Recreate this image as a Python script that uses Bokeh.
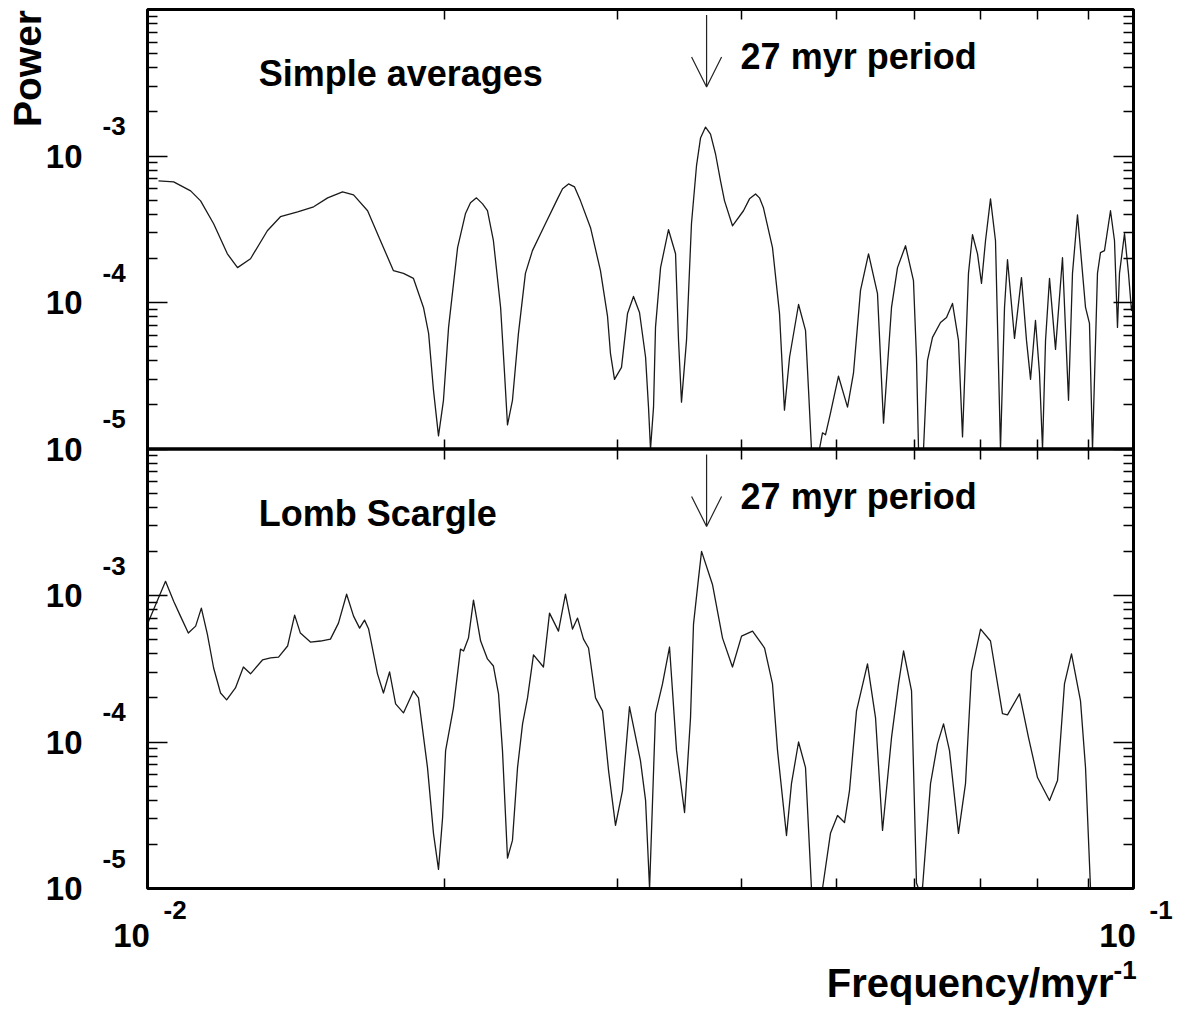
import math
from bokeh.plotting import figure
from bokeh.models import Range1d, LogAxis, FixedTicker, Label, Arrow, OpenHead, BoxAnnotation
from bokeh.embed import file_html
from bokeh.resources import INLINE

# ---------------- data (frequency in 1/myr, power) ----------------
top_freq = [0.01026, 0.01063, 0.01106, 0.01132, 0.01167, 0.01205, 0.01234, 0.01272, 0.01323, 0.01364,
            0.01420, 0.01474, 0.01523, 0.01577, 0.01618, 0.01672, 0.01723, 0.01776, 0.01818, 0.01861,
            0.01905, 0.01928, 0.01950, 0.01973, 0.01996, 0.02020, 0.02063, 0.02101, 0.02126, 0.02156,
            0.02187, 0.02212,
            0.02243, 0.02281, 0.02302, 0.02318, 0.02345, 0.02378, 0.02417, 0.02457, 0.02521, 0.02605,
            0.02636,
            0.02673, 0.02711, 0.02749, 0.02814, 0.02880, 0.02928, 0.02948, 0.02976, 0.03025, 0.03068,
            0.03111,
            0.03155, 0.03200, 0.03222, 0.03237, 0.03260, 0.03275, 0.03314, 0.03376, 0.03432, 0.03456,
            0.03480, 0.03521, 0.03562, 0.03604, 0.03638, 0.03681, 0.03724, 0.03768, 0.03812, 0.03848,
            0.03920, 0.04022, 0.04079, 0.04137, 0.04175, 0.04214, 0.04304, 0.04375, 0.04426, 0.04479,
            0.04574, 0.04649,
            0.04682, 0.04714, 0.04803, 0.04837, 0.04871, 0.04928, 0.05021, 0.05128, 0.05200, 0.05286,
            0.05386, 0.05500, 0.05578, 0.05683, 0.05763, 0.05872, 0.05982, 0.06024, 0.06053, 0.06124,
            0.06181, 0.06254, 0.06372, 0.06462, 0.06553, 0.06645, 0.06708, 0.06802, 0.06866, 0.06947,
            0.07012, 0.07078, 0.07161, 0.07245, 0.07330, 0.07399, 0.07451, 0.07574, 0.07698, 0.07789,
            0.07863, 0.07954, 0.08029, 0.08086, 0.08143, 0.08219, 0.08335, 0.08472, 0.08592, 0.08672,
            0.08774, 0.08940, 0.09023, 0.09087, 0.09193, 0.09258, 0.09345, 0.09477, 0.09566, 0.09633,
            0.09678, 0.09792, 0.09884, 0.09953, 0.1]
top_power = [6.76e-4, 6.66e-4, 5.78e-4, 4.94e-4, 3.45e-4, 2.15e-4, 1.73e-4, 1.99e-4, 3.09e-4, 3.85e-4,
             4.16e-4, 4.50e-4, 5.18e-4, 5.69e-4, 5.43e-4, 4.23e-4, 2.64e-4, 1.65e-4, 1.58e-4, 1.46e-4,
             9.25e-5, 6.15e-5, 2.52e-5, 1.23e-5, 2.15e-5, 6.76e-5, 2.37e-4, 4.03e-4, 4.79e-4, 5.18e-4,
             4.71e-4, 4.23e-4,
             2.64e-4, 9.25e-5, 3.29e-5, 1.46e-5, 2.15e-5, 6.15e-5, 1.58e-4, 2.26e-4, 3.24e-4, 5.10e-4,
             5.97e-4,
             6.45e-4, 6.15e-4, 4.94e-4, 3.24e-4, 1.65e-4, 8.03e-5, 4.50e-5, 2.99e-5, 3.61e-5, 8.42e-5,
             1.10e-4,
             8.55e-5, 4.23e-5, 1.93e-5, 1.0e-5, 1.93e-5, 6.76e-5, 1.73e-4, 3.14e-4, 2.15e-4, 5.51e-5,
             2.09e-5, 5.51e-5, 3.45e-4, 8.55e-4, 1.326e-3, 1.575e-3, 1.411e-3, 1.032e-3, 6.76e-4, 4.94e-4,
             3.34e-4, 4.23e-4, 5.10e-4, 5.51e-4, 5.18e-4, 4.43e-4, 2.37e-4, 8.42e-5, 1.84e-5, 4.23e-5,
             9.69e-5, 6.45e-5,
             2.52e-5, 1.0e-5, 1.0e-5, 1.29e-5, 1.25e-5, 1.76e-5, 3.14e-5, 1.93e-5, 3.29e-5, 1.21e-4,
             2.15e-4, 1.15e-4, 1.50e-5, 9.25e-5, 1.73e-4, 2.44e-4, 1.41e-4, 4.23e-5, 1.0e-5, 1.0e-5,
             4.03e-5, 5.78e-5, 7.31e-5, 7.91e-5, 9.85e-5, 5.51e-5, 1.21e-5, 1.58e-4, 2.90e-4, 2.15e-4,
             1.35e-4, 2.64e-4, 5.10e-4, 2.64e-4, 1.0e-5, 9.25e-5, 1.96e-4, 5.69e-5, 1.48e-4, 5.51e-5,
             2.99e-5, 7.54e-5, 3.29e-5, 1.0e-5, 5.51e-5, 1.46e-4, 4.79e-5, 2.02e-4, 2.15e-5, 1.58e-4,
             3.97e-4, 9.25e-5, 7.20e-5, 1.0e-5, 1.58e-4, 2.19e-4, 2.26e-4, 4.23e-4, 2.64e-4, 6.76e-5,
             1.58e-4, 2.95e-4, 1.58e-4, 8.82e-5, 1.03e-4]

bottom_freq = [0.01000, 0.01043, 0.01063, 0.01080, 0.01100, 0.01119, 0.01134, 0.01150, 0.01167, 0.01186,
               0.01203, 0.01228, 0.01251, 0.01272, 0.01308, 0.01333, 0.01358, 0.01387, 0.01410, 0.01429,
               0.01463, 0.01498, 0.01533, 0.01562, 0.01592, 0.01618, 0.01641, 0.01660, 0.01676, 0.01711,
               0.01735, 0.01760, 0.01785, 0.01818, 0.01861, 0.01883, 0.01923, 0.01950, 0.01973, 0.01992,
               0.02006, 0.02043, 0.02077, 0.02092, 0.02116, 0.02141, 0.02177, 0.02212, 0.02243, 0.02270,
               0.02291, 0.02318, 0.02345, 0.02373, 0.02401, 0.02429, 0.02463, 0.02521, 0.02557, 0.02611,
               0.02654, 0.02698, 0.02730, 0.02768, 0.02801, 0.02847, 0.02894, 0.02935, 0.02983, 0.03032,
               0.03082, 0.03162, 0.03200, 0.03230, 0.03275, 0.03329, 0.03384, 0.03440, 0.03505, 0.03554,
               0.03579, 0.03621, 0.03647, 0.03741, 0.03830, 0.03920, 0.04004, 0.04108, 0.04225, 0.04304,
               0.04355, 0.04447, 0.04499, 0.04574, 0.04649, 0.04714, 0.04837, 0.04928, 0.05010, 0.05092,
               0.05152, 0.05237, 0.05373, 0.05475, 0.05565, 0.05683, 0.05777, 0.05845, 0.05955, 0.06024,
               0.06053, 0.06110, 0.06225, 0.06328, 0.06417, 0.06507, 0.06645, 0.06755, 0.06851, 0.06997,
               0.07161, 0.07364, 0.07451, 0.07663, 0.07826, 0.07992, 0.08219, 0.08374, 0.08511, 0.08652,
               0.08836, 0.08940, 0.09045]
bottom_power = [6.38e-4, 1.25e-3, 9.15e-4, 7.23e-4, 5.54e-4, 6.18e-4, 8.20e-4, 5.45e-4, 3.20e-4, 2.16e-4,
                1.94e-4, 2.34e-4, 3.25e-4, 2.92e-4, 3.63e-4, 3.75e-4, 3.80e-4, 4.52e-4, 7.34e-4, 5.54e-4,
                4.81e-4, 4.89e-4, 5.04e-4, 6.48e-4, 1.02e-3, 7.23e-4, 5.99e-4, 6.79e-4, 5.90e-4, 2.92e-4,
                2.16e-4, 3.01e-4, 1.82e-4, 1.58e-4, 2.23e-4, 2.00e-4, 6.69e-5, 2.38e-5, 1.35e-5, 3.05e-5,
                8.73e-5, 1.71e-4, 4.31e-4, 4.18e-4, 5.12e-4, 9.29e-4, 4.89e-4, 3.69e-4, 3.30e-4, 2.13e-4,
                8.73e-5, 1.61e-5, 2.13e-5, 6.69e-5, 1.33e-4, 2.00e-4, 3.93e-4, 3.25e-4, 7.58e-4, 5.71e-4,
                1.02e-3, 5.90e-4, 7.01e-4, 5.04e-4, 4.38e-4, 2.00e-4, 1.63e-4, 6.38e-5, 2.70e-5, 4.66e-5,
                1.74e-4, 7.46e-5, 3.99e-5, 1.0e-5, 1.56e-4, 2.49e-4, 4.45e-4, 8.73e-5, 3.30e-5, 1.46e-4,
                6.38e-4, 1.31e-3, 2.00e-3, 1.19e-3, 5.12e-4, 3.25e-4, 5.28e-4, 5.71e-4, 4.38e-4, 2.49e-4,
                8.73e-5, 2.30e-5, 5.20e-5, 1.00e-4, 6.69e-5, 1.0e-5, 1.0e-5, 2.38e-5, 3.15e-5, 2.82e-5,
                4.66e-5, 1.63e-4, 3.41e-4, 1.46e-4, 2.49e-5, 1.07e-4, 2.49e-4, 4.18e-4, 2.23e-4, 1.09e-5,
                1.0e-5, 1.02e-5, 5.20e-5, 9.74e-5, 1.33e-4, 8.73e-5, 2.38e-5, 5.20e-5, 3.05e-4, 5.90e-4,
                4.89e-4, 1.56e-4, 1.53e-4, 2.13e-4, 1.07e-4, 5.72e-5, 3.99e-5, 5.45e-5, 2.49e-4, 3.99e-4,
                1.91e-4, 6.69e-5, 1.0e-5]

panel_titles = ["Simple averages", "Lomb Scargle"]
marker_text = "27 myr period"
marker_freq = 0.0369
y_tick_values = [1e-3, 1e-4, 1e-5]
y_tick_exps = ["-3", "-4", "-5"]
x_tick_values = [0.01, 0.1]
x_tick_exps = ["-2", "-1"]
x_title = "Frequency/myr"
x_title_exp = "-1"
y_title = "Power"

FONT = "Liberation Sans"

# ---------------- layout geometry (pixels) ----------------
W, H = 1176, 1008
FX0, FX1 = 147, 1133          # pixel columns of 0.01 and 0.1
X_DEC = (FX1 - FX0) / 1.0     # pixels per decade in x
Y_BOT = 888                   # pixel row of the lower panel's 1e-5
Y_DEC = 146.5                 # pixels per decade in y

x_lo = 10 ** (-2 - FX0 / X_DEC)
x_hi = 10 ** (-2 + (W - FX0) / X_DEC)
y_lo = 10 ** (-5 - (H - Y_BOT) / Y_DEC)
y_hi = 10 ** (-5 + Y_BOT / Y_DEC)

p = figure(width=W, height=H, x_axis_type="log", y_axis_type="log",
           x_range=Range1d(x_lo, x_hi), y_range=Range1d(y_lo, y_hi),
           x_axis_location=None, y_axis_location=None,
           output_backend="svg", toolbar_location=None,
           min_border=0, background_fill_color="white", border_fill_color="white")
# upper panel: same log scale shifted by 3 decades
p.extra_y_ranges = {"top": Range1d(y_lo * 1e-3, y_hi * 1e-3)}
p.outline_line_color = None
p.xgrid.visible = False
p.ygrid.visible = False

x_ticker = FixedTicker(ticks=[0.01, 0.1], minor_ticks=[0.02, 0.03, 0.04, 0.05, 0.06, 0.07, 0.08, 0.09])
y_ticker = FixedTicker(ticks=[10.0 ** e for e in range(-5, 2)],
                       minor_ticks=[m * 10.0 ** e for e in range(-5, 1) for m in range(2, 10)])
mid_ticker = FixedTicker(ticks=[], minor_ticks=[0.02, 0.03, 0.04, 0.05, 0.06, 0.07, 0.08, 0.09])


def make_axis(loc, ticker, major_len, minor_len, out=0):
    ax = LogAxis(fixed_location=loc, ticker=ticker)
    ax.axis_line_color = None
    ax.major_tick_in = major_len
    ax.major_tick_out = out
    ax.minor_tick_in = minor_len
    ax.minor_tick_out = out
    ax.major_tick_line_color = "black"
    ax.minor_tick_line_color = "black"
    ax.major_tick_line_width = 1.5
    ax.minor_tick_line_width = 1.5
    ax.major_label_text_font_size = "0px"
    ax.major_label_text_color = None
    ax.major_label_standoff = 0
    return ax


p.add_layout(make_axis(0.01, y_ticker, 20, 10), "left")
p.add_layout(make_axis(0.1, y_ticker, 20, 10), "right")
p.add_layout(make_axis(1e-5, x_ticker, 20, 10), "below")
p.add_layout(make_axis(10.0, x_ticker, 20, 10), "above")
p.add_layout(make_axis(1e-2, mid_ticker, 10, 10, out=10), "below")

# curves
p.line(top_freq, top_power, y_range_name="top", line_color="#1a1a1a", line_width=1.3, line_join="round")
p.line(bottom_freq, bottom_power, line_color="#1a1a1a", line_width=1.3, line_join="round")

# panel frames
for rng in ["top", "default"]:
    p.add_layout(BoxAnnotation(left=0.01, right=0.1, bottom=1e-5, top=1e-2, y_range_name=rng,
                               fill_color=None, fill_alpha=0.0,
                               line_color="black", line_alpha=1.0, line_width=3))


def txt(text, x, y, size, align="left", baseline="middle", rng="default",
        angle=0.0, xo=0, yo=0):
    p.add_layout(Label(x=x, y=y, text=text, y_range_name=rng, text_font=FONT,
                       text_font_style="bold", text_font_size=f"{size}px", text_color="black",
                       text_align=align, text_baseline=baseline, angle=angle,
                       x_offset=xo, y_offset=yo))


# y tick labels (both panels)
for rng in ["top", "default"]:
    for val, ex in zip(y_tick_values, y_tick_exps):
        txt("10", 0.01, val, 33, align="right", rng=rng, xo=-65)
        txt(ex, 0.01, val, 26, align="left", rng=rng, xo=-45, yo=30)

# x tick labels
for val, ex in zip(x_tick_values, x_tick_exps):
    txt("10", val, 1e-5, 33, align="center", xo=-16, yo=-47)
    txt(ex, val, 1e-5, 26, align="left", xo=16, yo=-21)

# axis titles
txt(x_title, 0.1, 1e-5, 40, align="right", xo=-20, yo=-94)
txt(x_title_exp, 0.1, 1e-5, 26, align="left", xo=-20, yo=-81)
txt(y_title, 0.01, 1e-2, 39, align="center", rng="top", angle=math.pi / 2, xo=-120, yo=-59)

# panel annotations
for rng, title in zip(["top", "default"], panel_titles):
    txt(title, 0.012964, 3.63e-3, 36, rng=rng)
    txt(marker_text, 0.03995, 4.74e-3, 36, rng=rng)
    p.add_layout(Arrow(x_start=marker_freq, y_start=9.17e-3, x_end=marker_freq, y_end=2.96e-3,
                       y_range_name=rng, line_color="#222222", line_width=1.2,
                       end=OpenHead(size=30, line_color="#222222", line_width=1.2)))

open("out.html", "w").write(file_html(p, INLINE))
